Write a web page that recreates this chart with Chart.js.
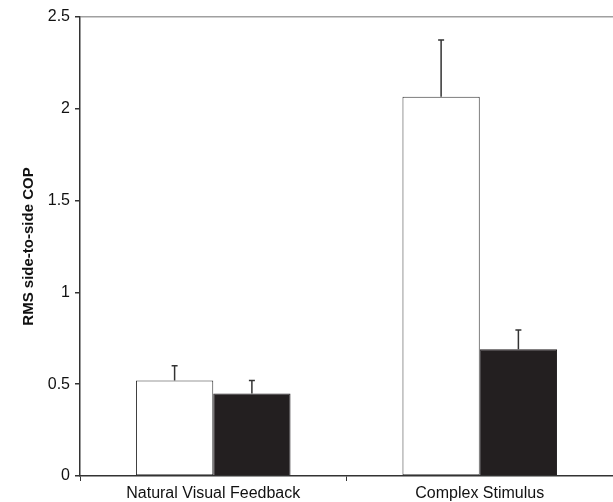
<!DOCTYPE html>
<html>
<head>
<meta charset="utf-8">
<script src="https://cdn.jsdelivr.net/npm/chart.js@4"></script>
<style>
  html, body { margin: 0; padding: 0; background: #fff; }
  #wrap { width: 613px; height: 502px; position: relative; }
</style>
</head>
<body>
<div id="wrap"><canvas id="chart"></canvas></div>
<script>
// Data
const categories = ['Natural Visual Feedback', 'Complex Stimulus'];
const whiteValues = [0.52, 2.065];
const whiteErrors = [0.08, 0.31];
const blackValues = [0.45, 0.69];
const blackErrors = [0.07, 0.105];
const yTicks = [0, 0.5, 1, 1.5, 2, 2.5];

// Upward-only error bars, drawn through the y scale
const errorBars = {
    id: 'errorBars',
    afterDatasetsDraw(chart) {
        const ctx = chart.ctx;
        const y = chart.scales.y;
        chart.data.datasets.forEach((ds, i) => {
            const meta = chart.getDatasetMeta(i);
            meta.data.forEach((bar, j) => {
                const top = y.getPixelForValue(ds.data[j] + ds.errors[j]);
                ctx.save();
                ctx.strokeStyle = '#333';
                ctx.lineWidth = 1.5;
                ctx.beginPath();
                ctx.moveTo(bar.x, bar.y);
                ctx.lineTo(bar.x, top);
                ctx.moveTo(bar.x - 3, top);
                ctx.lineTo(bar.x + 3, top);
                ctx.stroke();
                ctx.restore();
            });
        });
    }
};

const font = 'Liberation Sans, Arial, sans-serif';

new Chart(document.getElementById('chart'), {
    type: 'bar',
    data: {
        labels: categories,
        datasets: [
            {
                data: whiteValues,
                errors: whiteErrors,
                backgroundColor: '#ffffff',
                borderColor: '#333',
                borderWidth: 1,
                borderSkipped: false
            },
            {
                data: blackValues,
                errors: blackErrors,
                backgroundColor: '#231f20',
                borderColor: '#231f20',
                borderWidth: 1
            }
        ]
    },
    options: {
        responsive: true,
        maintainAspectRatio: false,
        animation: false,
        layout: { padding: { top: 17, right: 0, bottom: 0, left: 0 } },
        plugins: {
            legend: { display: false },
            tooltip: { enabled: false }
        },
        datasets: {
            bar: { categoryPercentage: 0.58, barPercentage: 1 }
        },
        scales: {
            x: {
                grid: {
                    drawOnChartArea: false,
                    color: '#333',
                    tickLength: 5
                },
                border: { color: '#333', width: 1.5 },
                ticks: {
                    color: '#111',
                    padding: 3,
                    maxRotation: 0,
                    font: { family: font, size: 16 }
                },
                afterFit(s) { s.height = 26; }
            },
            y: {
                min: 0,
                max: 2.5,
                afterBuildTicks(s) { s.ticks = yTicks.map(v => ({ value: v })); },
                grid: {
                    drawOnChartArea: true,
                    color: c => (c.tick && c.tick.value === 2.5) ? '#a0a0a0' : 'rgba(0,0,0,0)',
                    lineWidth: 1.5,
                    tickColor: '#333',
                    tickLength: 5
                },
                border: { color: '#333', width: 1.5 },
                ticks: {
                    color: '#111',
                    padding: 5,
                    callback: v => String(v),
                    font: { family: font, size: 16 }
                },
                title: {
                    display: true,
                    text: 'RMS side-to-side COP',
                    color: '#111',
                    padding: { top: 20, bottom: 0 },
                    font: { family: font, size: 15, weight: 'bold' }
                },
                afterFit(s) { s.width = 80; }
            }
        }
    },
    plugins: [errorBars]
});
</script>
</body>
</html>
